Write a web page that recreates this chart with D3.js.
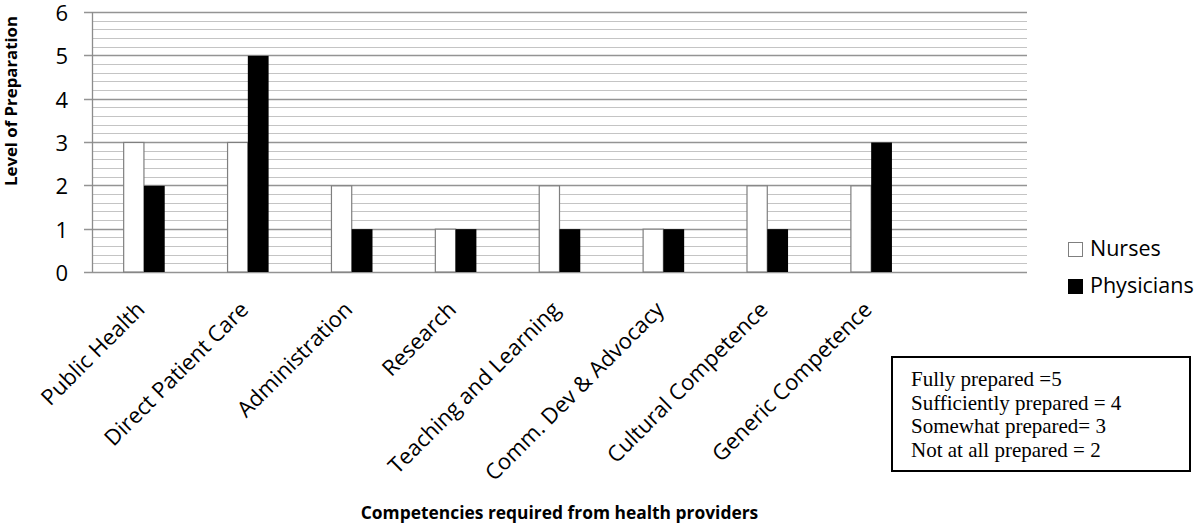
<!DOCTYPE html>
<html lang="en">
<head>
    <meta charset="UTF-8">
    <title>Level of Preparation</title>
    <script src="https://d3js.org/d3.v7.min.js"></script>
    <style>
        body {
            margin: 0;
            background-color: white;
        }

        svg text {
            font-family: "Open Sans", sans-serif;
            fill: black;
        }

        .tick-label {
            font-size: 22px;
        }

        .cat-label {
            font-size: 22px;
        }

        .axis-title {
            font-weight: bold;
        }

        .legend-label {
            font-size: 21.5px;
        }

        .note text {
            font-family: "Liberation Serif", "Times New Roman", serif;
            font-size: 21px;
        }
    </style>
</head>
<body>
    <svg id="chart"></svg>

    <script>
        // values
        const categories = ["Public Health", "Direct Patient Care", "Administration", "Research",
            "Teaching and Learning", "Comm. Dev & Advocacy", "Cultural Competence", "Generic Competence"];
        const nurses = [3, 3, 2, 1, 2, 1, 2, 2];
        const physicians = [2, 5, 1, 1, 1, 1, 1, 3];
        const seriesNames = ["Nurses", "Physicians"];
        const yTicks = [0, 1, 2, 3, 4, 5, 6];
        const noteLines = ["Fully prepared =5", "Sufficiently prepared = 4", "Somewhat prepared= 3", "Not at all prepared = 2"];

        const width = 1200, height = 527;
        const plot = { left: 92, right: 1027, top: 12, bottom: 272 };

        const svg = d3.select("#chart")
            .attr("width", width)
            .attr("height", height);

        // one empty slot on the right, like the original
        const x = d3.scaleBand()
            .domain(categories.concat([""]))
            .range([plot.left, plot.right])
            .paddingInner(0.6)
            .paddingOuter(0.3);

        const xs = d3.scaleBand()
            .domain(seriesNames)
            .range([0, x.bandwidth()]);

        const y = d3.scaleLinear().domain([0, 6]).range([plot.bottom, plot.top]);

        // minor gridlines every 0.2
        const minor = d3.range(0, 30).map(i => i * 0.2).filter(v => Math.abs(v - Math.round(v)) > 1e-6);
        svg.append("g")
            .selectAll("line")
            .data(minor)
            .join("line")
            .attr("x1", plot.left)
            .attr("x2", plot.right)
            .attr("y1", d => Math.round(y(d)) + 0.5)
            .attr("y2", d => Math.round(y(d)) + 0.5)
            .attr("stroke", "#c4c4c4")
            .attr("stroke-width", 1);

        // major gridlines with tick stubs
        svg.append("g")
            .selectAll("line")
            .data(yTicks)
            .join("line")
            .attr("x1", plot.left - 8)
            .attr("x2", plot.right)
            .attr("y1", d => Math.round(y(d)) + 0.5)
            .attr("y2", d => Math.round(y(d)) + 0.5)
            .attr("stroke", "#949494")
            .attr("stroke-width", 1.3);

        // y axis line
        svg.append("line")
            .attr("x1", plot.left + 0.5)
            .attr("x2", plot.left + 0.5)
            .attr("y1", plot.top)
            .attr("y2", plot.bottom)
            .attr("stroke", "#8c8c8c")
            .attr("stroke-width", 1.3);

        svg.append("g")
            .selectAll("text")
            .data(yTicks)
            .join("text")
            .attr("class", "tick-label")
            .attr("x", 68)
            .attr("y", d => y(d) + 1)
            .attr("dy", "0.36em")
            .attr("text-anchor", "end")
            .text(d => d);

        // bars
        const groups = svg.append("g")
            .selectAll("g")
            .data(categories.map((c, i) => ({ cat: c, vals: [nurses[i], physicians[i]] })))
            .join("g")
            .attr("transform", d => `translate(${x(d.cat)},0)`);

        groups.selectAll("rect")
            .data(d => d.vals.map((v, j) => ({ name: seriesNames[j], value: v })))
            .join("rect")
            .attr("x", d => xs(d.name) + (d.name === "Nurses" ? 0.5 : 0))
            .attr("y", d => y(d.value) + 0.5)
            .attr("width", d => xs.bandwidth() - (d.name === "Nurses" ? 0.5 : 0))
            .attr("height", d => y(0) - y(d.value) - 0.5)
            .attr("fill", d => d.name === "Nurses" ? "white" : "black")
            .attr("stroke", d => d.name === "Nurses" ? "#7f7f7f" : "none")
            .attr("stroke-width", 1.2);

        // rotated category labels
        svg.append("g")
            .selectAll("text")
            .data(categories)
            .join("text")
            .attr("class", "cat-label")
            .attr("text-anchor", "end")
            .attr("transform", d => `translate(${x(d) + x.bandwidth() / 2 + 2},${plot.bottom + 39}) rotate(-45)`)
            .text(d => d);

        // axis titles
        svg.append("text")
            .attr("class", "axis-title")
            .attr("text-anchor", "middle")
            .attr("transform", "translate(17,101) rotate(-90)")
            .style("font-size", "16.8px")
            .text("Level of Preparation");

        svg.append("text")
            .attr("class", "axis-title")
            .attr("text-anchor", "middle")
            .attr("x", (plot.left + plot.right) / 2)
            .attr("y", 519)
            .style("font-size", "17.4px")
            .text("Competencies required from health providers");

        // legend
        const legend = svg.append("g")
            .selectAll("g")
            .data(seriesNames)
            .join("g")
            .attr("transform", (d, i) => `translate(1068,${242 + i * 37})`);

        legend.append("rect")
            .attr("x", 0.5)
            .attr("y", 0.5)
            .attr("width", 14)
            .attr("height", 14)
            .attr("fill", d => d === "Nurses" ? "white" : "black")
            .attr("stroke", d => d === "Nurses" ? "#7f7f7f" : "black");

        legend.append("text")
            .attr("class", "legend-label")
            .attr("x", 22)
            .attr("y", 14)
            .text(d => d);

        // note box
        const note = svg.append("g").attr("class", "note");
        note.append("rect")
            .attr("x", 892)
            .attr("y", 357)
            .attr("width", 298)
            .attr("height", 114)
            .attr("fill", "white")
            .attr("stroke", "black")
            .attr("stroke-width", 2);

        note.selectAll("text")
            .data(noteLines)
            .join("text")
            .attr("x", 911)
            .attr("y", (d, i) => 386 + i * 23.7)
            .text(d => d);
    </script>
</body>
</html>
